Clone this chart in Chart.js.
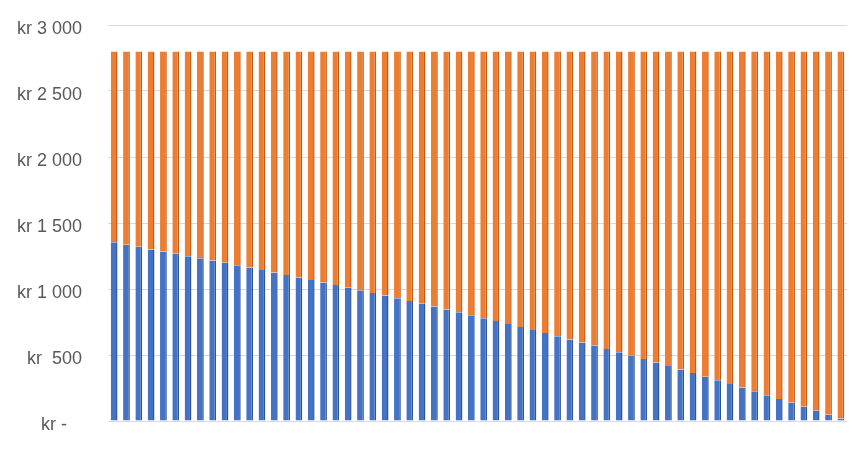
<!DOCTYPE html>
<html>
<head>
<meta charset="utf-8">
<title>Nedbetaling</title>
<script src="https://cdn.jsdelivr.net/npm/chart.js@4/dist/chart.umd.min.js"></script>
<style>
  html, body { margin: 0; padding: 0; background: #ffffff; }
  #wrap { width: 863px; height: 457px; }
</style>
</head>
<body>
<div id="wrap"><canvas id="lanChart" width="863" height="457"></canvas></div>
<script>
// Terminer (60 måneder)
const terminer = ['1','2','3','4','5','6','7','8','9','10','11','12','13','14','15','16','17','18','19','20',
    '21','22','23','24','25','26','27','28','29','30','31','32','33','34','35','36','37','38','39','40',
    '41','42','43','44','45','46','47','48','49','50','51','52','53','54','55','56','57','58','59','60'];

// Blå del (lest av bildet)
const renter = [1355, 1336, 1320, 1300, 1284, 1267, 1249, 1233, 1216, 1198,
    1180, 1162, 1144, 1125, 1106, 1087, 1068, 1049, 1030, 1010,
    990, 970, 950, 930, 909, 888, 867, 845, 823, 801,
    779, 757, 735, 712, 689, 666, 642, 618, 594, 570,
    545, 520, 495, 469, 443, 417, 390, 363, 336, 309,
    281, 253, 225, 196, 167, 138, 108, 78, 48, 18];

// Oransje del (lest av bildet)
const avdrag = [1445, 1464, 1480, 1500, 1516, 1533, 1551, 1567, 1584, 1602,
    1620, 1638, 1656, 1675, 1694, 1713, 1732, 1751, 1770, 1790,
    1810, 1830, 1850, 1870, 1891, 1912, 1933, 1955, 1977, 1999,
    2021, 2043, 2065, 2088, 2111, 2134, 2158, 2182, 2206, 2230,
    2255, 2280, 2305, 2331, 2357, 2383, 2410, 2437, 2464, 2491,
    2519, 2547, 2575, 2604, 2633, 2662, 2692, 2722, 2752, 2782];

// Etiketter på y-aksen (0, 500, ... 3000)
const yEtiketter = ['kr -   ', 'kr  500', 'kr 1 000', 'kr 1 500', 'kr 2 000', 'kr 2 500', 'kr 3 000'];

document.addEventListener('DOMContentLoaded', function() {
    const ctx = document.getElementById('lanChart').getContext('2d');

    new Chart(ctx, {
        type: 'bar',
        data: {
            labels: terminer,
            datasets: [
                {
                    label: 'Renter',
                    data: renter,
                    backgroundColor: '#4472C4',
                    borderColor: '#2F5597',
                    borderWidth: { top: 0, left: 0, bottom: 0, right: 1.5 },
                    borderSkipped: false
                },
                {
                    label: 'Avdrag',
                    data: avdrag,
                    backgroundColor: '#ED7D31',
                    borderColor: '#C55A11',
                    borderWidth: { top: 0, left: 0, bottom: 0, right: 1.5 },
                    borderSkipped: false
                }
            ]
        },
        options: {
            responsive: false,
            animation: false,
            layout: { padding: { top: 25, right: 16, bottom: 36, left: 0 } },
            plugins: {
                legend: { display: false },
                tooltip: { enabled: false }
            },
            datasets: {
                bar: { categoryPercentage: 0.55, barPercentage: 1 }
            },
            scales: {
                x: {
                    stacked: true,
                    display: false
                },
                y: {
                    stacked: true,
                    min: 0,
                    max: 3000,
                    border: { display: false },
                    grid: { color: '#D9D9D9', lineWidth: 1, drawTicks: false },
                    ticks: {
                        stepSize: 500,
                        padding: 26,
                        labelOffset: 4,
                        color: '#595959',
                        font: { family: 'Liberation Sans', size: 18 },
                        callback: function(v) { return yEtiketter[v / 500]; }
                    },
                    afterFit: function(scale) {
                        // fast bredde og ingen ekstra luft over/under
                        scale.width = 108;
                        scale.paddingTop = 0;
                        scale.paddingBottom = 0;
                    }
                }
            }
        }
    });
});
</script>
</body>
</html>
